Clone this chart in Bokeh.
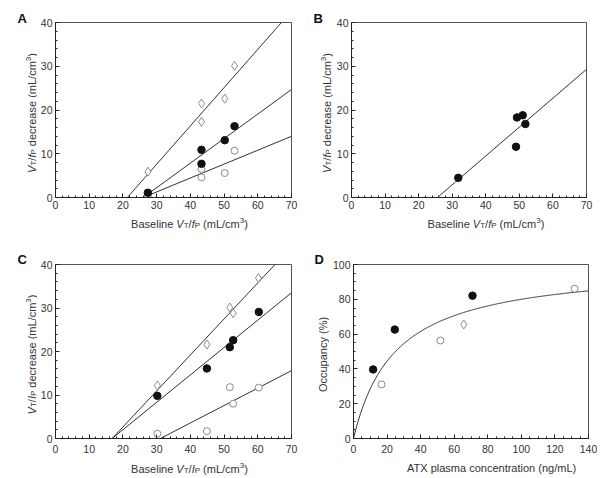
import numpy as np
from bokeh.plotting import figure
from bokeh.models import Range1d, Label, SingleIntervalTicker
from bokeh.layouts import column, row
from bokeh.embed import file_html
from bokeh.resources import INLINE

# ---------------- data ----------------
# Panel A
a_dia_x = [27.4, 43.3, 43.3, 50.2, 53.1]
a_dia_y = [5.9, 21.5, 17.3, 22.6, 30.1]
a_fill_x = [27.4, 43.3, 43.3, 50.2, 53.1]
a_fill_y = [1.1, 10.9, 7.7, 13.1, 16.3]
a_open_x = [27.4, 43.3, 43.3, 50.2, 53.1]
a_open_y = [0.4, 6.5, 4.6, 5.6, 10.7]
a_fit_slope = [0.875, 0.561, 0.318]   # diamonds, filled, open
a_fit_xint = [21.3, 26.0, 26.0]

# Panel B
b_x = [31.8, 49.3, 51.0, 51.8, 49.0]
b_y = [4.5, 18.3, 18.8, 16.8, 11.6]
b_fit_slope = [0.66]
b_fit_xint = [25.6]

# Panel C
c_dia_x = [30.2, 44.9, 51.7, 52.7, 60.2]
c_dia_y = [12.2, 21.6, 30.1, 28.8, 36.9]
c_fill_x = [30.2, 44.9, 51.7, 52.7, 60.3]
c_fill_y = [9.8, 16.1, 21.0, 22.6, 29.1]
c_open_x = [30.2, 44.9, 51.7, 52.7, 60.3]
c_open_y = [1.1, 1.7, 11.8, 8.0, 11.7]
c_fit_slope = [0.828, 0.63, 0.401]
c_fit_xint = [16.8, 16.8, 31.1]

# Panel D
d_fill_x = [11.7, 24.6, 70.9]
d_fill_y = [39.7, 62.6, 82.1]
d_open_x = [16.7, 51.8, 131.7]
d_open_y = [31.1, 56.3, 86.1]
d_dia_x = [65.7]
d_dia_y = [65.5]
d_emax = 100.0
d_ec50 = 25.0

FONT = "Liberation Sans"
TXT = "#333333"

# Arial / Liberation Sans advance widths (1/1000 em)
W = {' ': 278, '(': 333, ')': 333, '/': 278, '%': 889,
     'A': 667, 'B': 667, 'C': 722, 'D': 722, 'I': 278, 'L': 556, 'O': 778,
     'P': 667, 'T': 611, 'V': 667, 'X': 667,
     'a': 556, 'b': 556, 'c': 500, 'd': 556, 'e': 556, 'f': 278, 'g': 556,
     'h': 556, 'i': 222, 'l': 222, 'm': 833, 'n': 556, 'o': 556, 'p': 556,
     'r': 333, 's': 500, 't': 278, 'u': 556, 'y': 500}


def twidth(s, size):
    return sum(W.get(ch, 556) for ch in s) * size / 1000.0


MAIN = 11.0
SMALL = 8.0


def strip(w, h):
    """A blank figure whose frame is the whole canvas, 1 data unit = 1 px."""
    s = figure(frame_width=w, frame_height=h, x_range=Range1d(0, w),
               y_range=Range1d(0, h), output_backend="svg",
               toolbar_location=None, min_border=0, title=None,
               x_axis_location=None, y_axis_location=None)
    s.xgrid.visible = False
    s.ygrid.visible = False
    s.outline_line_color = None
    return s


def label(s, x, y, text, size, style, color=TXT, angle=0.0):
    s.add_layout(Label(x=x, y=y, text=text, angle=angle,
                       text_align="left", text_baseline="alphabetic",
                       text_font=FONT, text_font_size=f"{size}px",
                       text_font_style=style, text_color=color))


def rich(s, pieces, center, base, vertical=False):
    specs = []
    for t, kind in pieces:
        size = SMALL if kind in ("sub", "sup") else MAIN
        shift = -2.2 if kind == "sub" else (3.0 if kind == "sup" else 0.0)
        style = "italic" if kind == "i" else "normal"
        specs.append((t, size, shift, style))
    total = sum(twidth(t, sz) for t, sz, _, _ in specs)
    pos = center - total / 2.0
    for t, size, shift, style in specs:
        lead = len(t) - len(t.lstrip(" "))
        pos += twidth(" " * lead, size)
        body = t.strip(" ")
        if body:
            if vertical:
                label(s, base - shift, pos, body, size, style, angle=np.pi / 2)
            else:
                label(s, pos, base + shift, body, size, style)
        pos += twidth(t.lstrip(" "), size)


def main_fig(fw, fh, bl, br, bt, bb, xr, yr, xint, xminor, yint, yminor, xstand):
    p = figure(frame_width=fw, frame_height=fh,
               x_range=Range1d(*xr), y_range=Range1d(*yr),
               output_backend="svg", toolbar_location=None, title=None,
               min_border_left=bl, min_border_right=br,
               min_border_top=bt, min_border_bottom=bb)
    p.xaxis.ticker = SingleIntervalTicker(interval=xint, num_minor_ticks=xminor)
    p.yaxis.ticker = SingleIntervalTicker(interval=yint, num_minor_ticks=yminor)
    p.xgrid.visible = False
    p.ygrid.visible = False
    for ax in (p.xaxis, p.yaxis):
        ax.major_tick_in = 4
        ax.major_tick_out = 0
        ax.minor_tick_in = 2
        ax.minor_tick_out = 0
        ax.axis_line_color = "#222222"
        ax.major_tick_line_color = "#222222"
        ax.minor_tick_line_color = "#222222"
        ax.major_label_text_font = FONT
        ax.major_label_text_font_size = "10.5px"
        ax.major_label_text_color = TXT
    p.xaxis.major_label_standoff = xstand
    p.yaxis.major_label_standoff = 3
    p.outline_line_color = "#555555"
    p.outline_line_width = 1
    return p


def fit_lines(p, slopes, xints, xmax):
    for s, x0 in zip(slopes, xints):
        xs = [x0, xmax]
        ys = [s * (xx - x0) for xx in xs]
        p.line(xs, ys, line_color="#333333", line_width=1)


def pts(p, xs, ys, kind):
    if kind == "fill":
        p.scatter(xs, ys, marker="circle", size=7.5, fill_color="#111111",
                  line_color="#111111")
    elif kind == "open":
        p.scatter(xs, ys, marker="circle", size=7, fill_color="white",
                  line_color="#8a8a8a", line_width=1)
    else:
        p.scatter(xs, ys, marker="diamond", size=9, fill_color="white",
                  line_color="#8a8a8a", line_width=1)


ylab_f = [("V", "i"), ("T", "sub"), ("/", "n"), ("f", "i"), ("P", "sub"),
          (" decrease (mL/cm", "n"), ("3", "sup"), (")", "n")]
xlab_f = [("Baseline ", "n"), ("V", "i"), ("T", "sub"), ("/", "n"), ("f", "i"),
          ("P", "sub"), (" (mL/cm", "n"), ("3", "sup"), (")", "n")]
ylab_l = [("V", "i"), ("T", "sub"), ("/", "n"), ("I", "i"), ("P", "sub"),
          (" decrease (mL/cm", "n"), ("3", "sup"), (")", "n")]
xlab_l = [("Baseline ", "n"), ("V", "i"), ("T", "sub"), ("/", "n"), ("I", "i"),
          ("P", "sub"), (" (mL/cm", "n"), ("3", "sup"), (")", "n")]

LETTER_SIZE = 13

# ================= Row 1 (height 240) =================
# ---- Panel A ----
pA = main_fig(236, 175, 16, 11, 22, 15, (0, 70), (0, 40), 10, 5, 10, 5, 3)
fit_lines(pA, a_fit_slope, a_fit_xint, 70)
pts(pA, a_open_x, a_open_y, "open")
pts(pA, a_dia_x, a_dia_y, "dia")
pts(pA, a_fill_x, a_fill_y, "fill")
sA_left = strip(37, 240)
label(sA_left, 17, 222, "A", LETTER_SIZE, "bold", color="#111111")
rich(sA_left, ylab_f, 127.5, 31.0, vertical=True)
sA_bot = strip(263, 28)
rich(sA_bot, xlab_f, 16 + 118, 17)

# ---- Panel B ----
pB = main_fig(235, 175, 17, 9, 22, 15, (0, 70), (0, 40), 10, 5, 10, 5, 3)
fit_lines(pB, b_fit_slope, b_fit_xint, 70)
pts(pB, b_x, b_y, "fill")
sB_left = strip(31, 240)
label(sB_left, 11, 222, "B", LETTER_SIZE, "bold", color="#111111")
rich(sB_left, ylab_f, 127.5, 24, vertical=True)
sB_bot = strip(261, 28)
rich(sB_bot, xlab_f, 17 + 117.5, 17)

# ================= Row 2 (height 236) =================
# ---- Panel C ----
pC = main_fig(236, 174, 16, 11, 24, 18, (0, 70), (0, 40), 10, 5, 10, 5, 6)
fit_lines(pC, c_fit_slope, c_fit_xint, 70)
pts(pC, c_open_x, c_open_y, "open")
pts(pC, c_dia_x, c_dia_y, "dia")
pts(pC, c_fill_x, c_fill_y, "fill")
sC_left = strip(37, 236)
label(sC_left, 17, 217, "C", LETTER_SIZE, "bold", color="#111111")
rich(sC_left, ylab_l, 122, 31.0, vertical=True)
sC_bot = strip(263, 20)
rich(sC_bot, xlab_l, 16 + 118, 8)

# ---- Panel D ----
pD = main_fig(235, 174, 21, 9, 24, 18, (0, 140), (0, 100), 20, 4, 20, 4, 6)
cx = np.linspace(0, 140, 300)
cy = d_emax * cx / (d_ec50 + cx)
pD.line(cx, cy, line_color="#333333", line_width=1)
pts(pD, d_open_x, d_open_y, "open")
pts(pD, d_dia_x, d_dia_y, "dia")
pts(pD, d_fill_x, d_fill_y, "fill")
sD_left = strip(27, 236)
label(sD_left, 12, 217, "D", LETTER_SIZE, "bold", color="#111111")
rich(sD_left, [("Occupancy (%)", "n")], 122, 20.7, vertical=True)
sD_bot = strip(265, 20)
rich(sD_bot, [("ATX plasma concentration (ng/mL)", "n")], 21 + 117.5, 8.5)

layout = column(
    row(sA_left, column(pA, sA_bot), sB_left, column(pB, sB_bot)),
    row(sC_left, column(pC, sC_bot), sD_left, column(pD, sD_bot)),
)

open("out.html", "w").write(file_html(layout, INLINE))
